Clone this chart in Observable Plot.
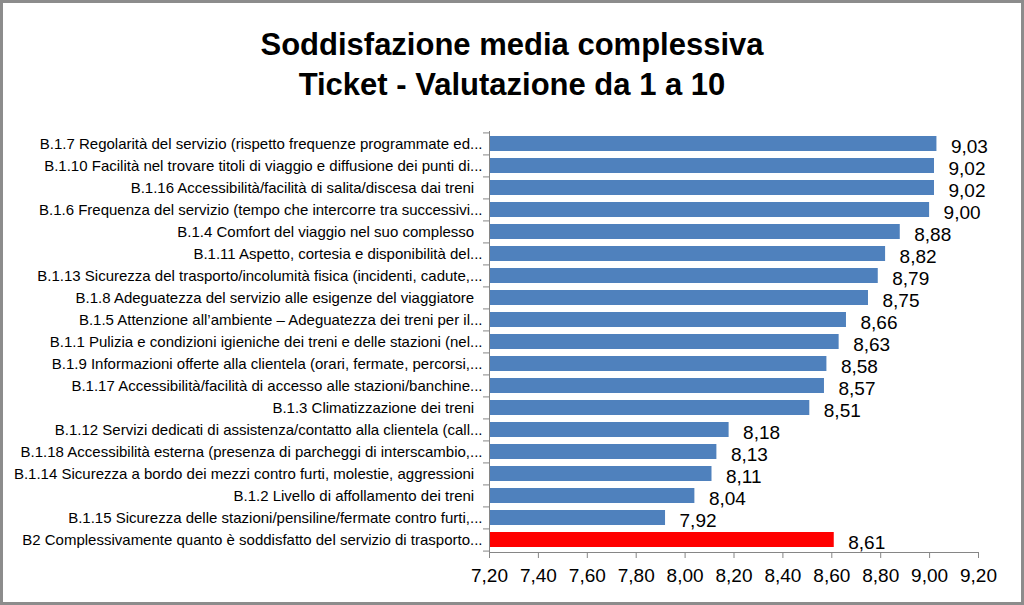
<!DOCTYPE html>
<html><head><meta charset="utf-8">
<script src="https://cdn.jsdelivr.net/npm/d3@7"></script>
<script src="https://cdn.jsdelivr.net/npm/@observablehq/plot@0.6"></script>
<style>
body{margin:0;background:#fff;}
#wrap{position:relative;width:1024px;height:605px;overflow:hidden;background:#fff;}
#title{height:120px;box-sizing:border-box;padding-top:25px;text-align:center;font-family:"Liberation Sans",Arial,sans-serif;font-weight:bold;font-size:31px;line-height:40px;color:#000;}
#border{position:absolute;left:0;top:0;width:1024px;height:605px;box-sizing:border-box;border:3px solid #8c8c8c;pointer-events:none;}
svg{display:block;}
</style></head>
<body>
<div id="wrap">
<div id="title">Soddisfazione media complessiva<br>Ticket - Valutazione da 1 a 10</div>
<div id="chart"></div>
<div id="border"></div>
</div>
<script>
const categories = [
  "B.1.7 Regolarità del servizio (rispetto frequenze programmate ed...",
  "B.1.10 Facilità nel trovare titoli di viaggio e diffusione dei punti di...",
  "B.1.16 Accessibilità/facilità di salita/discesa dai treni\u00a0\u00a0",
  "B.1.6 Frequenza del servizio (tempo che intercorre tra successivi...",
  "B.1.4 Comfort del viaggio nel suo complesso\u00a0\u00a0",
  "B.1.11 Aspetto, cortesia e disponibilità del...",
  "B.1.13 Sicurezza del trasporto/incolumità fisica (incidenti, cadute,...",
  "B.1.8 Adeguatezza del servizio alle esigenze del viaggiatore\u00a0\u00a0",
  "B.1.5 Attenzione all\u2019ambiente \u2013 Adeguatezza dei treni per il...",
  "B.1.1 Pulizia e condizioni igieniche dei treni e delle stazioni (nel...",
  "B.1.9 Informazioni offerte alla clientela (orari, fermate, percorsi,...",
  "B.1.17 Accessibilità/facilità di accesso alle stazioni/banchine...",
  "B.1.3 Climatizzazione dei treni\u00a0\u00a0",
  "B.1.12 Servizi dedicati di assistenza/contatto alla clientela (call...",
  "B.1.18 Accessibilità esterna (presenza di parcheggi di interscambio,...",
  "B.1.14 Sicurezza a bordo dei mezzi contro furti, molestie, aggressioni\u00a0\u00a0",
  "B.1.2 Livello di affollamento dei treni\u00a0\u00a0",
  "B.1.15 Sicurezza delle stazioni/pensiline/fermate contro furti,...",
  "B2 Complessivamente quanto è soddisfatto del servizio di trasporto..."
];
const values = [9.03, 9.02, 9.02, 9.00, 8.88, 8.82, 8.79, 8.75, 8.66, 8.63, 8.58, 8.57, 8.51, 8.18, 8.13, 8.11, 8.04, 7.92, 8.61];
const highlight = [false,false,false,false,false,false,false,false,false,false,false,false,false,false,false,false,false,false,true];
const xTicks = [7.2, 7.4, 7.6, 7.8, 8.0, 8.2, 8.4, 8.6, 8.8, 9.0, 9.2];

const data = categories.map((c, i) => ({cat: c, value: values[i], hl: highlight[i]}));
const fmt = v => v.toFixed(2).replace(".", ",");
const font = "'Liberation Sans',Arial,sans-serif";

const H = 485, MT = 11, MB = 53;
const step = (H - MT - MB) / categories.length;

const chart = Plot.plot({
  width: 1024,
  height: H,
  marginTop: MT,
  marginBottom: MB,
  marginLeft: 489,
  marginRight: 46,
  style: {fontFamily: font, background: "transparent"},
  x: {domain: [7.2, 9.2]},
  y: {domain: categories, paddingInner: 0.32, paddingOuter: 0.16},
  marks: [
    Plot.barX(data, {y: "cat", x1: 7.2, x2: "value", fill: d => d.hl ? "#ff0000" : "#4f81bd"}),
    Plot.text(data, {y: "cat", x: "value", text: d => fmt(d.value), textAnchor: "start", dx: 14, dy: 3, fontSize: 19, fill: "#000"}),
    Plot.ruleX([7.2], {stroke: "#868686"}),
    Plot.frame({anchor: "bottom", stroke: "#868686"}),
    Plot.axisY({tickSize: 6, text: null, stroke: "#868686", dy: -step / 2, label: null}),
    Plot.axisY({ticks: categories.slice(-1), tickSize: 6, text: null, stroke: "#868686", dy: step / 2, label: null}),
    Plot.axisY({tickSize: 0, tickPadding: 7, fontSize: 15, fill: "#000", label: null}),
    Plot.axisX({ticks: xTicks, tickFormat: fmt, tickSize: 6, tickPadding: 10, fontSize: 19, stroke: "#868686", fill: "#000", label: null})
  ]
});
document.getElementById("chart").appendChild(chart);
</script>
</body></html>
